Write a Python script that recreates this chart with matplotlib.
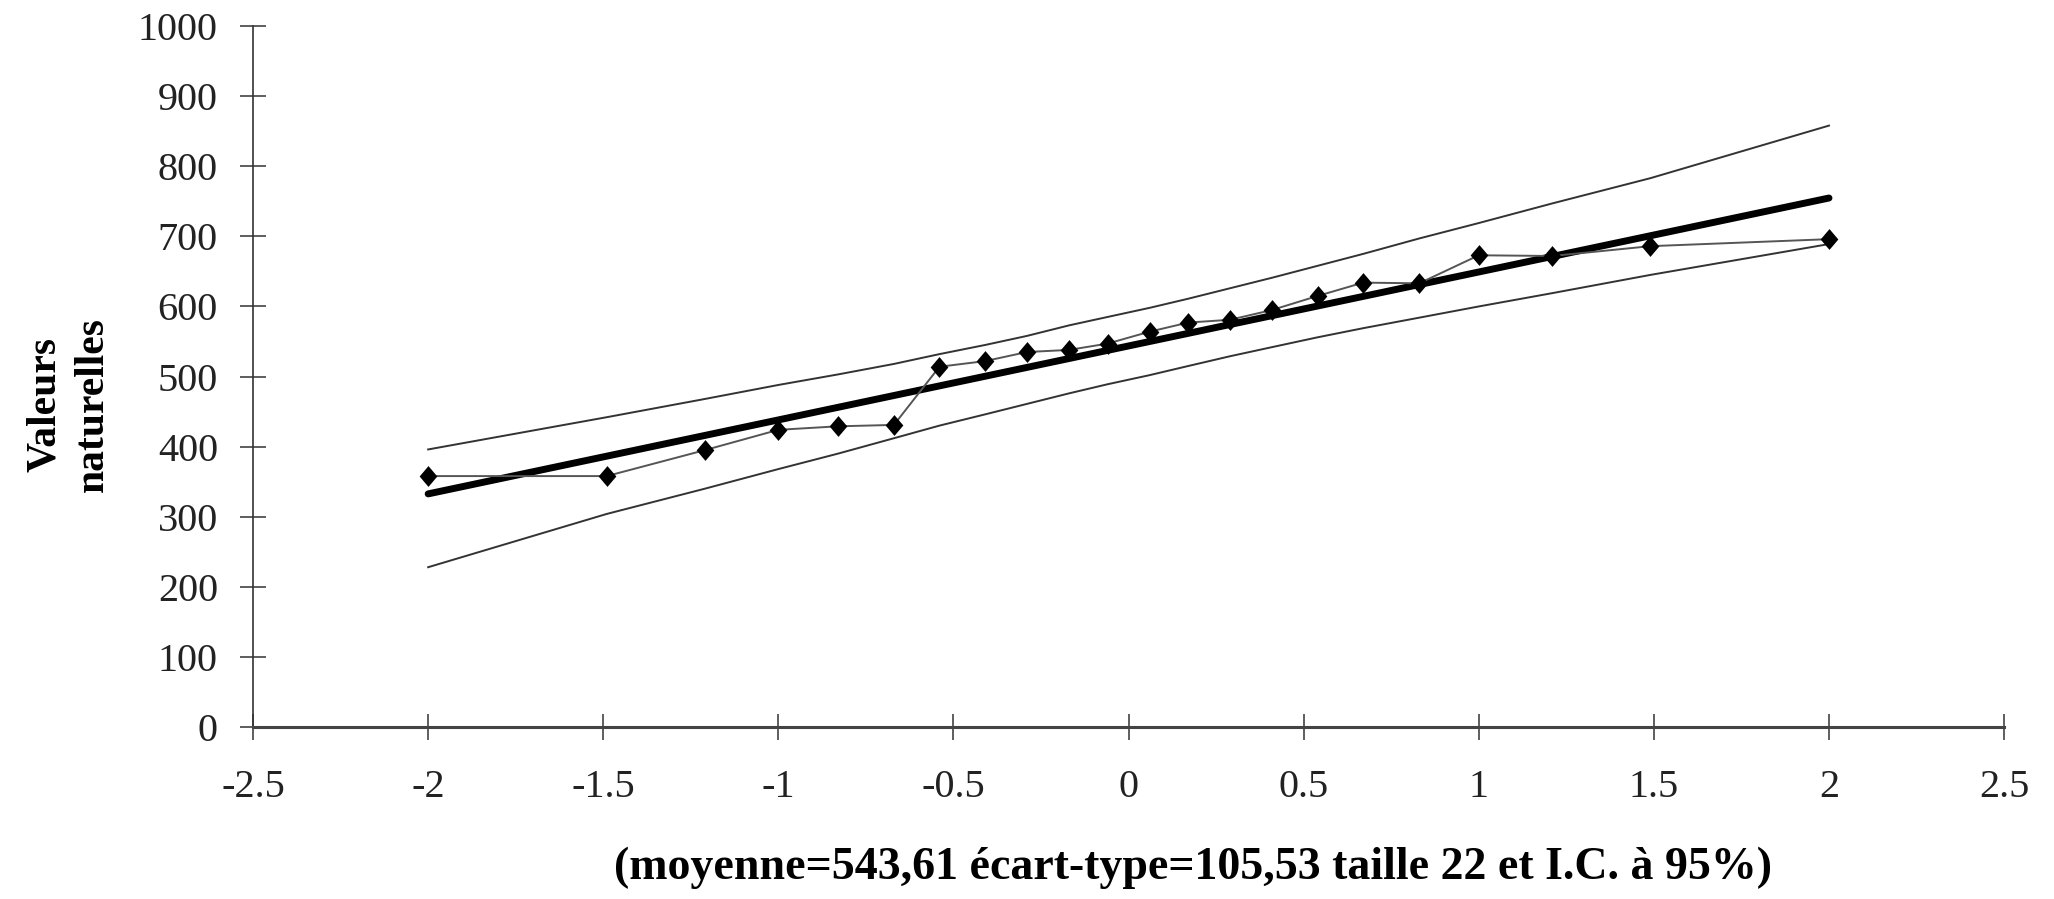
import numpy as np
import matplotlib
matplotlib.use('Agg')
import matplotlib.pyplot as plt

# quantiles normaux (abscisse) et valeurs observees triees
z = [-2.00, -1.49, -1.21, -1.00, -0.83, -0.67, -0.54, -0.41, -0.29, -0.17, -0.06,
     0.06, 0.17, 0.29, 0.41, 0.54, 0.67, 0.83, 1.00, 1.21, 1.49, 2.00]
valeurs = [358, 358, 395, 424, 429, 431, 514, 522, 535, 538, 547,
           564, 577, 581, 595, 615, 634, 633, 673, 672, 686, 696]

# droite theorique (moyenne + ecart-type * z)
droite_x = [-2.0, 2.0]
droite_y = [332.6, 754.7]

# bornes de l'intervalle de confiance a 95%
borne_sup = [396, 442, 468, 488, 503, 518, 532, 545, 558, 573, 585,
             598, 611, 626, 641, 658, 675, 697, 719, 747, 783, 858]
borne_inf = [228, 304, 340, 368, 390, 412, 430, 446, 461, 476, 489,
             502, 515, 529, 542, 556, 569, 584, 600, 619, 645, 689]

xticks = [-2.5, -2, -1.5, -1, -0.5, 0, 0.5, 1, 1.5, 2, 2.5]
xlabels = ['-2.5', '-2', '-1.5', '-1', '-0.5', '0', '0.5', '1', '1.5', '2', '2.5']
yticks = list(range(0, 1001, 100))

plt.rcParams['font.family'] = ['Liberation Serif', 'DejaVu Serif']

fig = plt.figure(figsize=(20.54, 8.99), dpi=100)
ax = fig.add_axes([0.1232, 0.1913, 0.8525, 0.7797])

# losange un peu plus haut que large
losange = [(0, 1), (0.85, 0), (0, -1), (-0.85, 0), (0, 1)]

ax.plot(z, borne_sup, color='#333333', lw=1.4)
ax.plot(z, borne_inf, color='#333333', lw=1.4)
ax.plot(droite_x, droite_y, color='black', lw=5, solid_capstyle='round')
ax.plot(z, valeurs, color='#555555', lw=1.4, marker=losange, ms=15,
        markerfacecolor='black', markeredgecolor='black', markeredgewidth=0)

ax.set_xlim(-2.5, 2.5)
ax.set_ylim(0, 1000)
ax.set_xticks(xticks)
ax.set_xticklabels(xlabels)
ax.set_yticks(yticks)

for s in ['top', 'right']:
    ax.spines[s].set_visible(False)
ax.spines['left'].set_color('#333333')
ax.spines['left'].set_linewidth(1.2)
ax.spines['bottom'].set_color('#444444')
ax.spines['bottom'].set_linewidth(2.2)

ax.tick_params(axis='both', direction='inout', length=18.5, width=1.1,
               color='#333333', labelsize=29, labelcolor='#222222')
ax.tick_params(axis='x', pad=21)
ax.tick_params(axis='y', pad=16)

ax.set_ylabel('Valeurs\nnaturelles', fontsize=30, fontweight='bold',
              linespacing=1.35)
ax.yaxis.set_label_coords(-0.0805, 0.46)
ax.set_xlabel('(moyenne=543,61 écart-type=105,53 taille 22 et I.C. à 95%)',
              fontsize=33, fontweight='bold')
ax.xaxis.set_label_coords(0.537, -0.171)

plt.savefig('out.png', dpi=100)
